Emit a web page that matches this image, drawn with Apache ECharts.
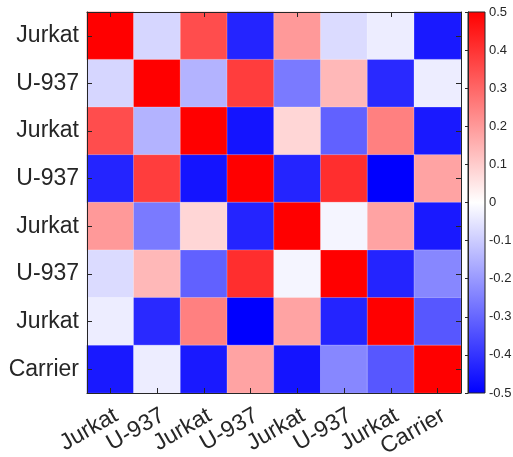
<!DOCTYPE html>
<html>
<head>
<meta charset="utf-8">
<script src="https://cdn.jsdelivr.net/npm/echarts@6/dist/echarts.min.js"></script>
<style>html,body{margin:0;padding:0;background:#fff;}#c{width:513px;height:457px;}</style>
</head>
<body>
<div id="c"></div>
<script>
const categories = ['Jurkat','U-937','Jurkat','U-937','Jurkat','U-937','Jurkat','Carrier'];
const row1 = [0.5, -0.08, 0.35, -0.43, 0.2, -0.07, -0.035, -0.45];
const row2 = [-0.08, 0.5, -0.15, 0.38, -0.26, 0.14, -0.42, -0.035];
const row3 = [0.35, -0.15, 0.5, -0.46, 0.08, -0.31, 0.25, -0.45];
const row4 = [-0.43, 0.38, -0.46, 0.5, -0.43, 0.41, -0.5, 0.18];
const row5 = [0.2, -0.26, 0.08, -0.43, 0.5, -0.02, 0.18, -0.45];
const row6 = [-0.07, 0.14, -0.31, 0.41, -0.02, 0.5, -0.43, -0.235];
const row7 = [-0.035, -0.42, 0.25, -0.5, 0.18, -0.43, 0.5, -0.33];
const row8 = [-0.45, -0.035, -0.45, 0.18, -0.46, -0.235, -0.33, 0.5];
const rows = [row1,row2,row3,row4,row5,row6,row7,row8];
const colorbarTicks = [-0.5,-0.4,-0.3,-0.2,-0.1,0,0.1,0.2,0.3,0.4,0.5];
const colorMin = -0.5, colorMax = 0.5;

const heatData = [];
rows.forEach((r, yi) => r.forEach((v, xi) => heatData.push([xi, yi, v])));

const FONT = 'Liberation Sans, Arial, sans-serif';
const DARK = '#262626';

const chart = echarts.init(document.getElementById('c'), null, {renderer:'canvas'});
chart.setOption({
  animation: false,
  backgroundColor: '#fff',
  grid: [
    {left: 87, top: 12, width: 374, height: 381, outerBoundsMode:'none', containLabel:false},
    {left: 468, top: 12, width: 17, height: 381, outerBoundsMode:'none', containLabel:false}
  ],
  xAxis: [
    {type:'category', gridIndex:0, data: categories, position:'bottom', z:10,
     axisLine:{show:true, lineStyle:{color:DARK, width:1}},
     axisTick:{show:true, inside:true, length:5, alignWithLabel:true, lineStyle:{color:DARK}},
     axisLabel:{rotate:30, fontSize:23, color:DARK, fontFamily:FONT, margin:11, interval:0,
       verticalAlign:'top'},
     splitLine:{show:false}},
    {type:'category', gridIndex:0, data: categories, position:'top', z:10,
     axisLine:{show:true, lineStyle:{color:DARK, width:1}},
     axisTick:{show:true, inside:true, length:5, alignWithLabel:true, lineStyle:{color:DARK}},
     axisLabel:{show:false}},
    {type:'value', gridIndex:1, min:0, max:1, show:false}
  ],
  yAxis: [
    {type:'category', gridIndex:0, data: categories, inverse:true, position:'left', z:10,
     axisLine:{show:true, lineStyle:{color:DARK, width:1}},
     axisTick:{show:true, inside:true, length:5, alignWithLabel:true, lineStyle:{color:DARK}},
     axisLabel:{fontSize:23, color:DARK, fontFamily:FONT, margin:8, interval:0}},
    {type:'category', gridIndex:0, data: categories, inverse:true, position:'right', z:10,
     axisLine:{show:true, lineStyle:{color:DARK, width:1}},
     axisTick:{show:true, inside:true, length:5, alignWithLabel:true, lineStyle:{color:DARK}},
     axisLabel:{show:false}},
    {type:'value', gridIndex:1, min:colorMin, max:colorMax, interval:0.1, position:'right', z:10,
     axisLine:{show:true, lineStyle:{color:DARK, width:1}},
     axisTick:{show:true, inside:true, length:3, lineStyle:{color:DARK}},
     splitLine:{show:false},
     axisLabel:{fontSize:13, color:DARK, fontFamily:FONT, margin:4,
       customValues: colorbarTicks,
       formatter: v => Math.abs(v) < 1e-9 ? '0' : v.toFixed(1)}}
  ],
  visualMap: {
    type:'continuous', show:false, min:colorMin, max:colorMax, seriesIndex:0, dimension:2,
    inRange:{color:['#0000ff','#ffffff','#ff0000']}
  },
  series: [
    {type:'heatmap', xAxisIndex:0, yAxisIndex:0, data: heatData,
     itemStyle:{borderColor:'rgba(255,255,255,0.25)', borderWidth:1}},
    {type:'custom', xAxisIndex:2, yAxisIndex:2, data:[[colorMin, colorMax]],
     renderItem: function(params, api){
       const p0 = api.coord([0, api.value(1)]);
       const p1 = api.coord([1, api.value(0)]);
       return {type:'rect', shape:{x:p0[0], y:p0[1], width:p1[0]-p0[0], height:p1[1]-p0[1]},
         style:{fill: new echarts.graphic.LinearGradient(0,0,0,1,[
           {offset:0,color:'#ff0000'},{offset:0.5,color:'#ffffff'},{offset:1,color:'#0000ff'}]),
           stroke: DARK, lineWidth:1}};
     }}
  ]
});
</script>
</body>
</html>
